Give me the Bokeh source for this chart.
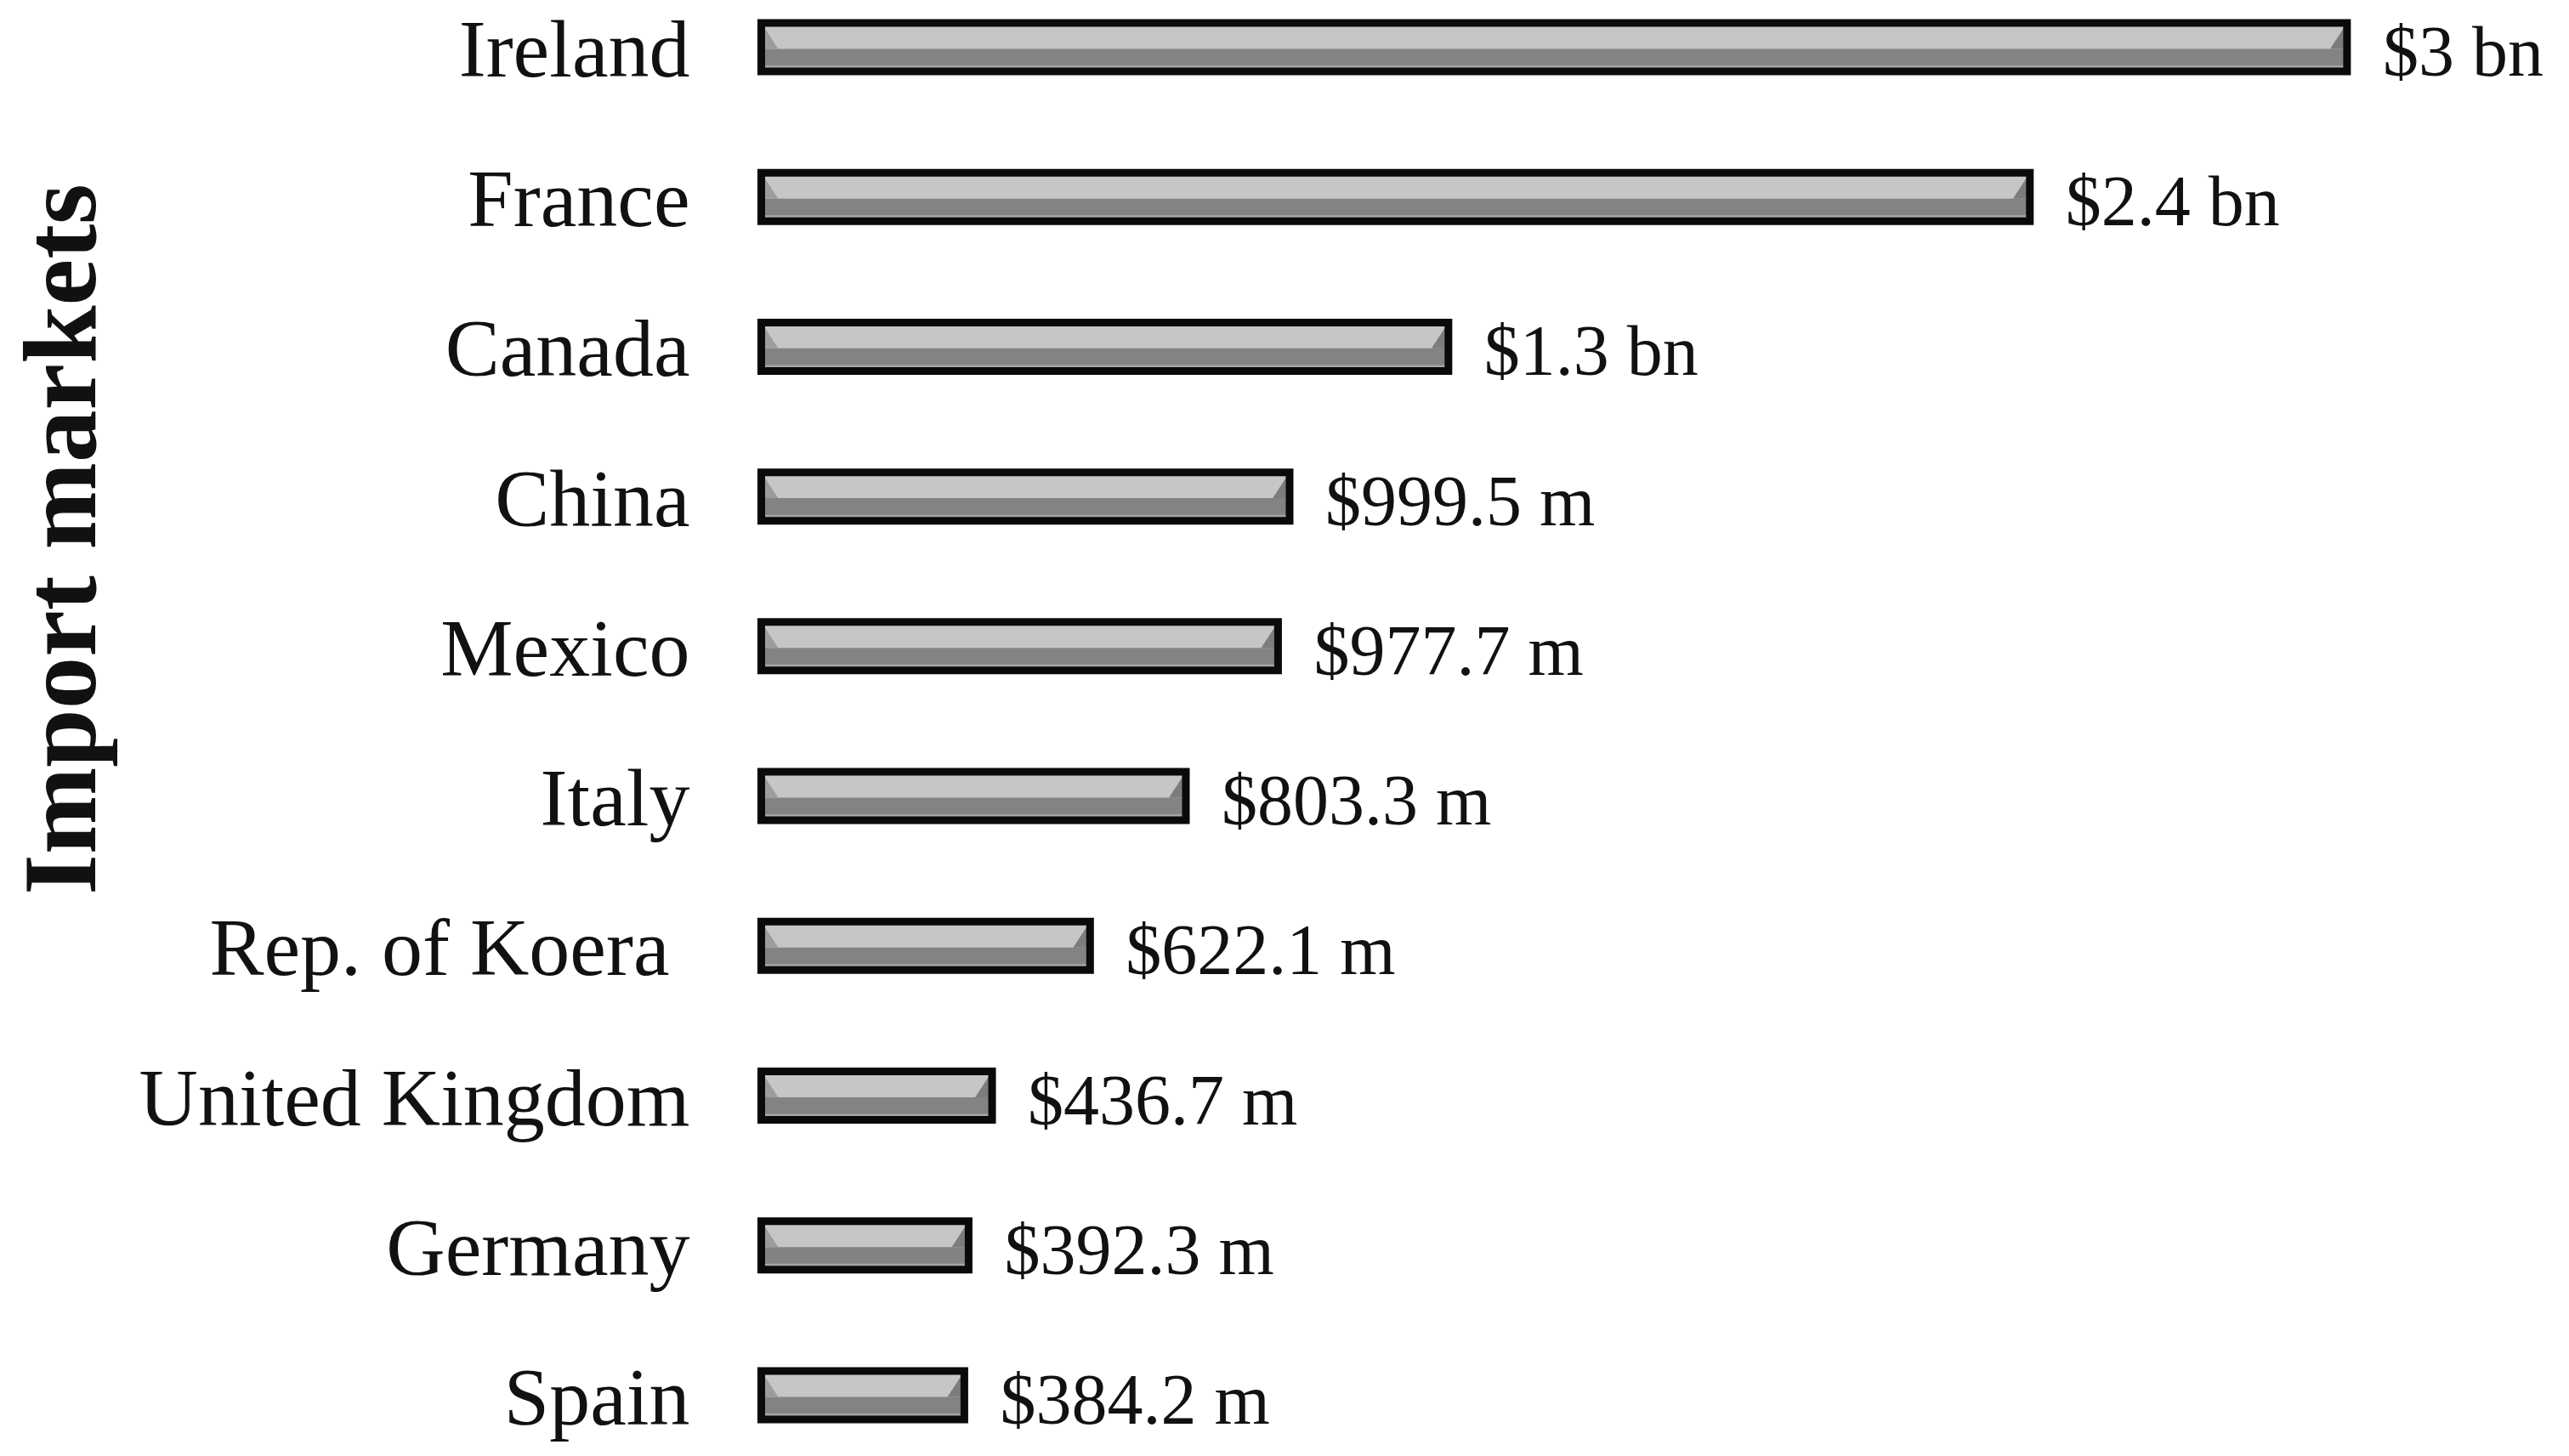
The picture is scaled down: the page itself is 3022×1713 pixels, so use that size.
import math
from bokeh.plotting import figure
from bokeh.models import Range1d, Label, ColumnDataSource
from bokeh.embed import file_html
from bokeh.resources import INLINE

# Data (top to bottom as shown)
countries = ["Ireland", "France", "Canada", "China", "Mexico", "Italy",
             "Rep. of Koera ", "United Kingdom", "Germany", "Spain"]
values_musd = [3000, 2400, 1300, 999.5, 977.7, 803.3, 622.1, 436.7, 392.3, 384.2]
value_labels = ["$3 bn", "$2.4 bn", "$1.3 bn", "$999.5 m", "$977.7 m",
                "$803.3 m", "$622.1 m", "$436.7 m", "$392.3 m", "$384.2 m"]
axis_title = "Import markets"

n = len(countries)
ypos = [n - 1 - i for i in range(n)]

FONT = "Liberation Serif"
W, HGT = 3006, 1697
X0_PX = 895            # pixel position of the value axis origin
PX_PER_UNIT = 2111 / 3395.0

p = figure(width=W, height=HGT, output_backend="svg", toolbar_location=None,
           x_range=Range1d(-X0_PX / PX_PER_UNIT, 3395),
           y_range=Range1d(-0.318, 9.312),
           x_axis_location=None, y_axis_location=None,
           min_border_left=0, min_border_right=0,
           min_border_top=0, min_border_bottom=0)
p.outline_line_color = None
p.grid.visible = False
p.background_fill_color = "white"

src = ColumnDataSource(dict(y=ypos, v=values_musd, lab=value_labels,
                            country=countries))

H = 0.3235
half = H / 2
mid_off = 0.011
# base dark body
p.hbar(y="y", left=0, right="v", height=H, source=src,
       fill_color="#838383", line_color=None)
# bottom lighter strip
p.quad(left=0, right=values_musd,
       top=[y - 0.122 for y in ypos], bottom=[y - half for y in ypos],
       fill_color="#a6a6a6", line_color=None)
# top light band
p.quad(left=0, right=values_musd,
       top=[y + half for y in ypos], bottom=[y - mid_off for y in ypos],
       fill_color="#c6c6c6", line_color=None)
# bevel end faces
bev = 32
lx, ly, rx, ry = [], [], [], []
for y, v in zip(ypos, values_musd):
    lx.append([0, bev, 0]); ly.append([y + half, y - mid_off, y - mid_off])
    rx.append([v, v - bev, v]); ry.append([y + half, y - mid_off, y - mid_off])
p.patches(lx, ly, fill_color="#9c9c9c", line_color=None)
p.patches(rx, ry, fill_color="#7c7c7c", line_color=None)
# outline
p.hbar(y="y", left=0, right="v", height=H, source=src,
       fill_color=None, line_color="#0a0a0a", line_width=9, line_join="miter")

# value labels
p.text(x="v", y="y", text="lab", source=src, x_offset=42, y_offset=5,
       text_baseline="middle", text_align="left",
       text_font_size="84px", text_font={"value": FONT}, text_color="#111111")

# category labels
p.text(x=0, y="y", text="country", source=src, x_offset=-84, y_offset=2,
       text_baseline="middle", text_align="right",
       text_font_size="96px", text_font={"value": FONT}, text_color="#111111")

# axis title
p.add_layout(Label(x=70, y=1063, x_units="screen", y_units="screen",
                   text=axis_title, angle=math.pi / 2,
                   text_align="center", text_baseline="middle",
                   text_font=FONT, text_font_style="bold",
                   text_font_size="123px", text_color="#111111"))

open("out.html", "w").write(file_html(p, INLINE))
